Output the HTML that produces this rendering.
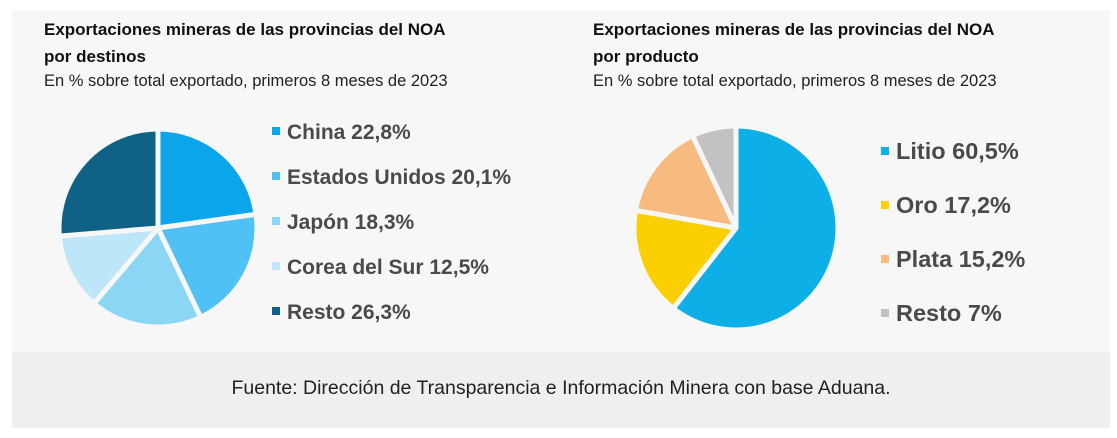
<!DOCTYPE html>
<html><head><meta charset="utf-8"><style>
body{margin:0;width:1117px;height:438px;background:#fff;font-family:"Liberation Sans",sans-serif;position:relative;overflow:hidden}
.panel{position:absolute;left:12px;top:10px;width:1098px;height:342px;background:#f7f7f7}
.foot{position:absolute;left:12px;top:352px;width:1098px;height:76px;background:#efefef;text-align:center;line-height:72px;font-size:19.5px;color:#222}
.t{position:absolute;font-size:17px;font-weight:bold;color:#111;line-height:27px}
.s{position:absolute;font-size:16.5px;color:#222}
.lg{position:absolute;font-weight:bold;color:#4a4a4a;white-space:nowrap}
.lg i{display:inline-block;width:8px;height:8px;margin-right:7px;vertical-align:middle;position:relative;top:-2px}
</style></head><body>
<div class="panel"></div>
<div class="foot">Fuente: Dirección de Transparencia e Información Minera con base Aduana.</div>
<div class="t" style="left:44px;top:16px">Exportaciones mineras de las provincias del NOA<br>por destinos</div>
<div class="s" style="left:44px;top:72px">En % sobre total exportado, primeros 8 meses de 2023</div>
<div class="t" style="left:593px;top:16px">Exportaciones mineras de las provincias del NOA<br>por producto</div>
<div class="s" style="left:593px;top:72px">En % sobre total exportado, primeros 8 meses de 2023</div>
<svg id="sv" width="1117" height="438" style="position:absolute;left:0;top:0"></svg>
<div class="lg" style="left:272px;top:120px;font-size:21px;line-height:26px">
<div style="height:45px"><i style="background:#0aa5ea"></i>China 22,8%</div>
<div style="height:45px"><i style="background:#4fc1f5"></i>Estados Unidos 20,1%</div>
<div style="height:45px"><i style="background:#8cd6f5"></i>Japón 18,3%</div>
<div style="height:45px"><i style="background:#bde6f9"></i>Corea del Sur 12,5%</div>
<div style="height:45px"><i style="background:#0f6186"></i>Resto 26,3%</div>
</div>
<div class="lg" style="left:881px;top:137px;font-size:23.5px;line-height:28px">
<div style="height:54px"><i style="background:#0db0e6"></i>Litio 60,5%</div>
<div style="height:54px"><i style="background:#fcd000"></i>Oro 17,2%</div>
<div style="height:54px"><i style="background:#f7bb80"></i>Plata 15,2%</div>
<div style="height:54px"><i style="background:#c2c2c2"></i>Resto 7%</div>
</div>
<script>
var sv=document.getElementById('sv'),h='';
function pie(cx,cy,r,vals,cols){var a=0,t=vals.reduce(function(x,y){return x+y},0);
for(var i=0;i<vals.length;i++){var a0=a/t*2*Math.PI;a+=vals[i];var a1=a/t*2*Math.PI;
var x0=cx+r*Math.sin(a0),y0=cy-r*Math.cos(a0),x1=cx+r*Math.sin(a1),y1=cy-r*Math.cos(a1);
h+='<path d="M'+cx+','+cy+'L'+x0+','+y0+'A'+r+','+r+' 0 '+((a1-a0)>Math.PI?1:0)+' 1 '+x1+','+y1+'Z" fill="'+cols[i]+'" stroke="#f7f7f7" stroke-width="5" stroke-linejoin="round"/>';}}
pie(158,228,99,[22.8,20.1,18.3,12.5,26.3],['#0aa5ea','#4fc1f5','#8cd6f5','#bde6f9','#0f6186']);
pie(736,228,102,[60.5,17.2,15.2,7],['#0db0e6','#fcd000','#f7bb80','#c2c2c2']);
sv.innerHTML=h;
</script>
</body></html>
